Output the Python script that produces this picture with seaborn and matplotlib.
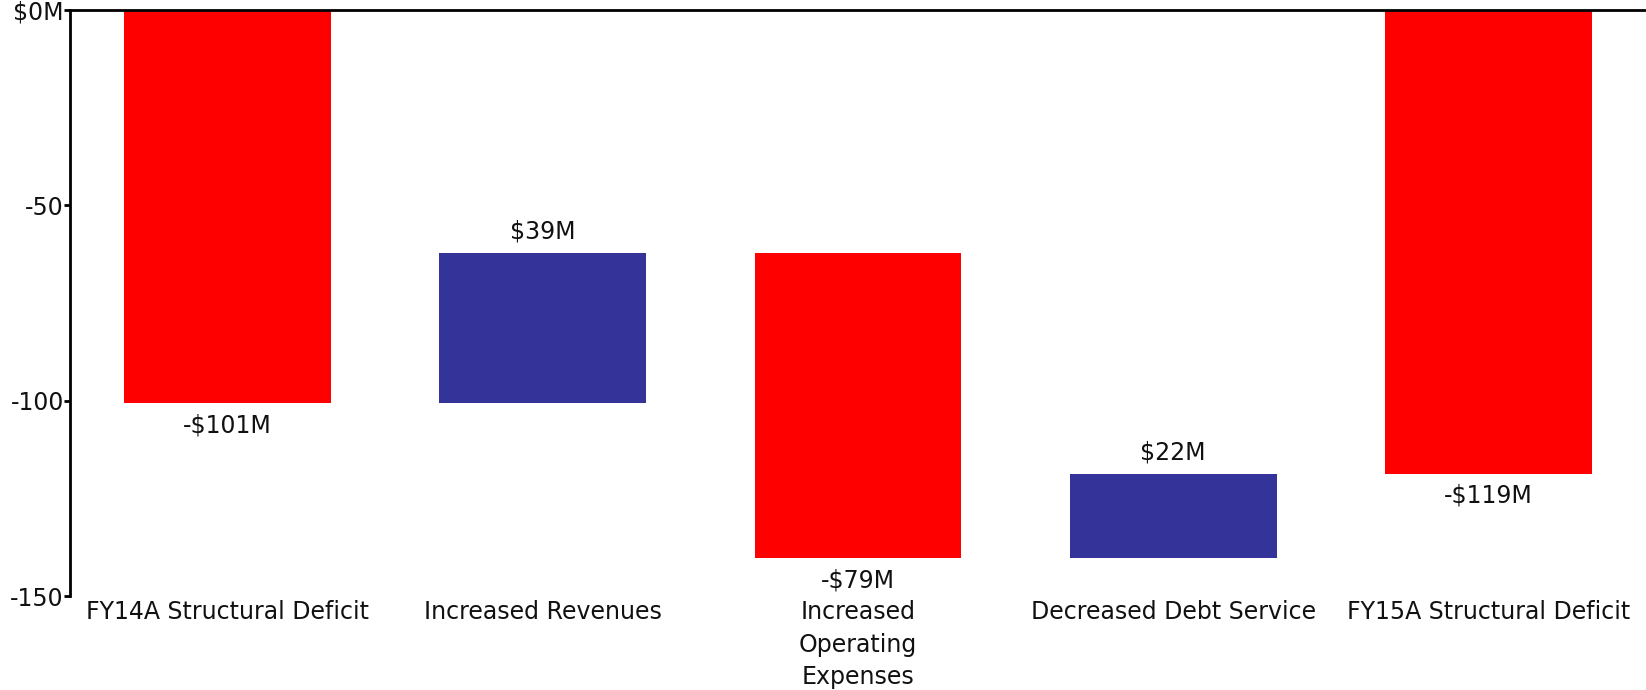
import matplotlib
matplotlib.use("Agg")
import matplotlib.pyplot as plt
import seaborn as sns
import numpy as np

categories = ["FY14A Structural Deficit", "Increased Revenues",
              "Increased\nOperating\nExpenses", "Decreased Debt Service",
              "FY15A Structural Deficit"]
changes = [-100.7, 38.4, -78.1, 21.6, -118.8]
is_total = [True, False, False, False, True]
value_labels = ["-$101M", "$39M", "-$79M", "$22M", "-$119M"]
ytick_values = [0, -50, -100, -150]
ytick_labels = ["$0M", "-50", "-100", "-150"]
neg_color = "#FF0000"
pos_color = "#333399"
FS = 17

sns.set_theme(style="white")
plt.rcParams['font.family'] = ['DejaVu Sans']

fig = plt.figure(figsize=(16.46, 6.90), dpi=100)
ax = fig.add_axes([70/1646, 1 - 596/690, 1 - 70/1646, (596 - 10)/690])

running = 0
for i, (cat, ch, tot, lab) in enumerate(zip(categories, changes, is_total, value_labels)):
    start = 0 if tot else running
    end = start + ch
    running = end
    color = neg_color if ch < 0 else pos_color
    sns.barplot(x=[cat], y=[ch], bottom=start, order=categories, color=color,
                saturation=1, width=0.656, ax=ax, edgecolor="none", linewidth=0)
    low, high = min(start, end), max(start, end)
    if ch < 0:
        ax.annotate(lab, (i, low), xytext=(0, -7), textcoords="offset points",
                    ha="center", va="top", fontsize=FS, color="#111111")
    else:
        ax.annotate(lab, (i, high), xytext=(0, 7), textcoords="offset points",
                    ha="center", va="bottom", fontsize=FS, color="#111111")

ax.set_xlim(-0.5, len(categories) - 0.5)
ax.set_ylim(-150, 0)
ax.set_yticks(ytick_values)
ax.set_yticklabels(ytick_labels, fontsize=FS, color="#111111")
ax.set_xticks(range(len(categories)))
ax.set_xticklabels(categories, fontsize=FS, color="#111111", va="top", linespacing=1.45)
ax.tick_params(axis="x", length=0, pad=3)
ax.tick_params(axis="y", length=4.5, width=2, color="black", pad=0, left=True)
ax.set_xlabel("")
ax.set_ylabel("")
for s in ["right", "bottom"]:
    ax.spines[s].set_visible(False)
for s in ["left", "top"]:
    ax.spines[s].set_visible(True)
    ax.spines[s].set_color("black")
    ax.spines[s].set_linewidth(2)

fig.savefig("out.png", dpi=100)
